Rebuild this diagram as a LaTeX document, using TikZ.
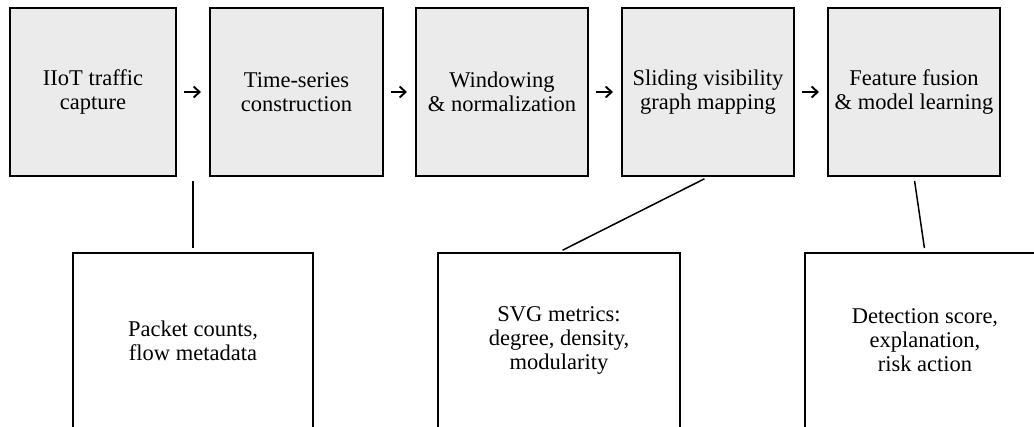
\documentclass[tikz,border=0pt]{standalone}
\usepackage{fontspec}
\setmainfont{Liberation Serif}
\usetikzlibrary{arrows.meta}
\definecolor{boxgray}{HTML}{EBEBEB}
\tikzset{
  topbox/.style={draw=black, fill=boxgray, line width=2pt, inner sep=0pt,
    minimum height=168pt, align=center, font=\fontsize{22.5}{24}\selectfont},
  botbox/.style={draw=black, fill=white, line width=2pt, inner sep=0pt,
    minimum height=175pt, align=center, font=\fontsize{22.5}{24}\selectfont},
  flow/.style={line width=1.9pt, -{Straight Barb[length=6pt,width=11pt]},
    shorten <=6.5pt, shorten >=8pt},
  link/.style={line width=1.5pt, shorten <=4pt, shorten >=4pt}
}
\begin{document}
\begin{tikzpicture}[x=1pt,y=-1pt]
\useasboundingbox (0,0) rectangle (1034,426);
\clip (0,0) rectangle (1034,426);
\node[topbox, minimum width=166pt] (t1) at (93,92) {IIoT traffic\\capture};
\node[topbox, minimum width=173pt] (t2) at (296.5,92) {Time-series\\construction};
\node[topbox, minimum width=172pt] (t3) at (502,92) {Windowing\\\& normalization};
\node[topbox, minimum width=172pt] (t4) at (708,92) {Sliding visibility\\graph mapping};
\node[topbox, minimum width=172pt] (t5) at (914,92) {Feature fusion\\\& model learning};
\node[botbox, minimum width=240pt] (b1) at (193,340.5) {Packet counts,\\flow metadata};
\node[botbox, minimum width=242pt] (b2) at (559,340.5) {SVG metrics:\\degree, density,\\modularity};
\node[botbox, minimum width=240pt] (b3) at (925,340.5) {Detection score,\\explanation,\\risk action};
\draw[flow] (t1.east) -- (t2.west);
\draw[flow] (t2.east) -- (t3.west);
\draw[flow] (t3.east) -- (t4.west);
\draw[flow] (t4.east) -- (t5.west);
\draw[link] (b1.north |- t1.south) -- (b1.north);
\draw[link] (t4.south) -- (b2.north);
\draw[link] (t5.south) -- (b3.north);
\end{tikzpicture}
\end{document}
